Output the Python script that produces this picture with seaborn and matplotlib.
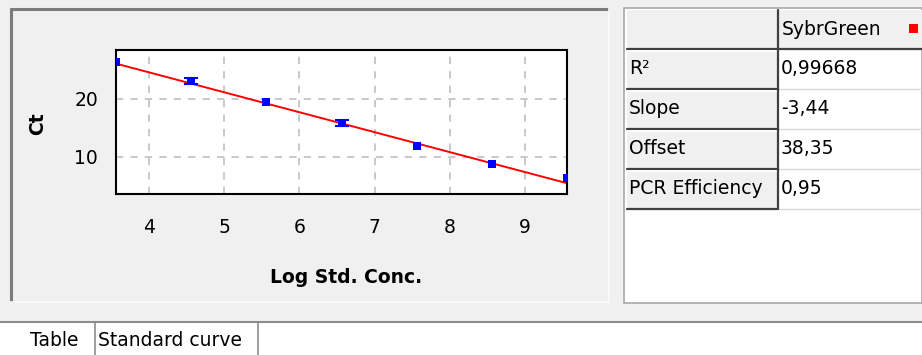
import matplotlib
matplotlib.use('Agg')
import matplotlib.pyplot as plt
import seaborn as sns
from matplotlib.patches import Rectangle

# Standard curve data (log concentration vs Ct)
log_conc = [3.56, 4.56, 5.56, 6.56, 7.56, 8.56, 9.56]
ct_values = [26.4, 23.1, 19.5, 15.9, 11.9, 8.8, 6.4]
ct_err = [0.0, 0.55, 0.0, 0.5, 0.0, 0.0, 0.0]

# Fit results shown in the table
series_name = 'SybrGreen'
row_labels = ['R²', 'Slope', 'Offset', 'PCR Efficiency']
row_values = ['0,99668', '-3,44', '38,35', '0,95']
slope = -3.44
offset = 38.35

x_ticks = [4, 5, 6, 7, 8, 9]
y_ticks = [10, 20]
tab_labels = ['Table', 'Standard curve']

sns.set_style('white')
plt.rcParams['font.family'] = ['DejaVu Sans']
plt.rcParams['text.color'] = 'black'
plt.rcParams['axes.labelcolor'] = 'black'

FS = 14

W, H = 922, 355
fig = plt.figure(figsize=(W / 100, H / 100), dpi=100, facecolor='#F0F0F0')

# background "window" drawn in pixel coordinates
bg = fig.add_axes([0, 0, 1, 1], zorder=0)
bg.set_xlim(0, W)
bg.set_ylim(H, 0)
bg.axis('off')

# tab bar at the bottom
bg.add_patch(Rectangle((0, 322), W, 33, facecolor='white', edgecolor='none'))
bg.plot([0, W], [322, 322], color='#8C8C8C', lw=1.5)
bg.plot([95, 95], [322, H], color='#8C8C8C', lw=1.2)
bg.plot([258, 258], [322, H], color='#8C8C8C', lw=1.2)
bg.text(30, 340, tab_labels[0], fontsize=FS - 0.5, va='center', ha='left')
bg.text(98, 340, tab_labels[1], fontsize=FS - 0.5, va='center', ha='left')

# left panel frame (sunken)
bg.plot([10, 609], [8.5, 8.5], color='#7C7C7C', lw=2.2, solid_capstyle='butt')
bg.plot([10.5, 10.5], [8, 302], color='#7C7C7C', lw=2.2, solid_capstyle='butt')
bg.plot([10, 609], [302, 302], color='#FAFAFA', lw=1.2)
bg.plot([609, 609], [8, 302], color='#FAFAFA', lw=1.2)

# right panel with the table
bg.add_patch(Rectangle((624, 8), W - 624, 295, facecolor='white', edgecolor='#A8A8A8', lw=1.2))

col0, col1, col2 = 627, 778, W
top, head_h, row_h = 10, 39, 40
bg.add_patch(Rectangle((col0, top), col2 - col0, head_h, facecolor='#F0F0F0', edgecolor='none'))
bg.plot([col0, col2], [top + head_h, top + head_h], color='#404040', lw=1.6)
bg.text(col1 + 4, top + head_h / 2, series_name, fontsize=FS - 0.5, va='center', ha='left')
bg.add_patch(Rectangle((909, 24), 9, 9, facecolor='#FF0000', edgecolor='none'))

for i, (lab, val) in enumerate(zip(row_labels, row_values)):
    y0 = top + head_h + i * row_h
    bg.add_patch(Rectangle((col0, y0), col1 - col0, row_h, facecolor='#F0F0F0', edgecolor='none'))
    bg.plot([col0, col1], [y0 + 1.5, y0 + 1.5], color='white', lw=1.2)
    bg.plot([col0, col1], [y0 + row_h, y0 + row_h], color='#404040', lw=1.6)
    bg.plot([col1, col2], [y0 + row_h, y0 + row_h], color='#D9D9D9', lw=1.0)
    bg.text(col0 + 2, y0 + row_h / 2, lab, fontsize=FS - 0.5, va='center', ha='left')
    bg.text(col1 + 3, y0 + row_h / 2, val, fontsize=FS - 0.5, va='center', ha='left')

bg.plot([col1, col1], [top, top + head_h + 4 * row_h], color='#404040', lw=1.6)

# the standard curve plot
ax = fig.add_axes([116 / W, 1 - 194 / H, 451 / W, 144 / H], zorder=2)
ax.set_facecolor('white')
ax.set_axisbelow(True)
ax.grid(True, linestyle=(0, (4, 4)), color='#C4C4C4', lw=1.3)

ax.axline((0, offset), slope=slope, color='#FF0000', lw=1.4, zorder=2)
err_x = [x for x, e in zip(log_conc, ct_err) if e > 0]
err_y = [y for y, e in zip(ct_values, ct_err) if e > 0]
err_v = [e for e in ct_err if e > 0]
ax.errorbar(err_x, err_y, yerr=err_v, fmt='none', ecolor='#0000FF',
            elinewidth=1.5, capsize=5, capthick=1.5, zorder=3)
sns.scatterplot(x=log_conc, y=ct_values, marker='s', color='#0000FF',
                edgecolor='#0000FF', s=30, linewidth=0, ax=ax, zorder=4)

ax.set_xlim(min(log_conc), max(log_conc))
ax.set_ylim(3.6, 28.45)
ax.set_xticks(x_ticks)
ax.set_yticks(y_ticks)
for sp in ax.spines.values():
    sp.set_color('black')
    sp.set_linewidth(1.5)
ax.tick_params(axis='both', direction='out', length=8, width=1.5,
               colors='black', labelsize=FS - 0.5)
ax.tick_params(axis='x', pad=9)
ax.tick_params(axis='y', pad=5)

ax.set_xlabel('Log Std. Conc.', fontsize=FS - 0.5, fontweight='bold', va='center')
ax.xaxis.set_label_coords(0.51, -0.583)
ax.set_ylabel('Ct', fontsize=FS - 0.5, fontweight='bold', va='center')
ax.yaxis.set_label_coords(-0.173, 0.486)

fig.savefig('out.png', dpi=100, facecolor=fig.get_facecolor())
